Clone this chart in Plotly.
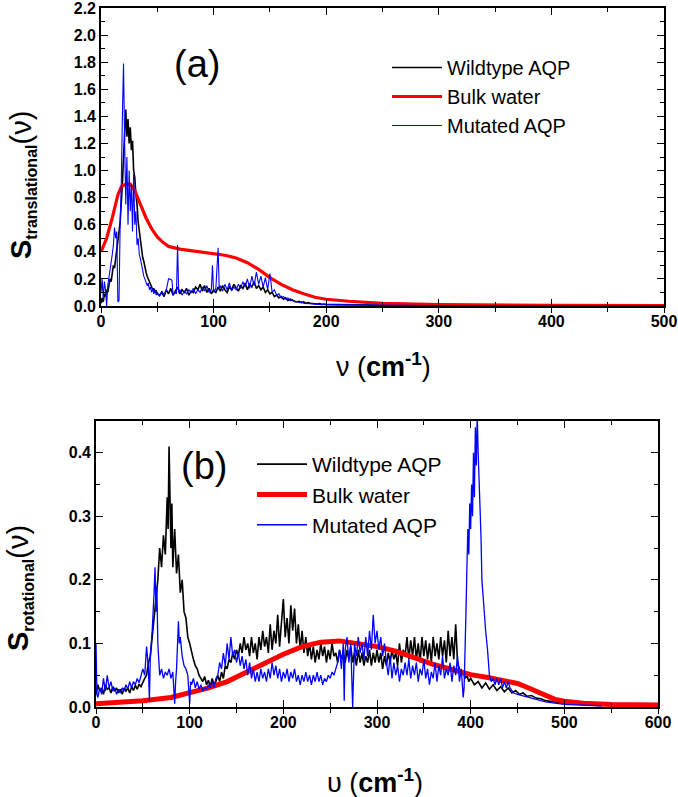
import plotly.graph_objects as go

# ---------------- Panel (a): translational spectra ----------------
a_wild_x = list(range(0, 51)) + list(range(52, 201, 2)) + [210, 220, 240, 260, 300, 400, 500]
a_wild_y = [0.02, 0.06, 0.03, 0.09, 0.07, 0.12, 0.1, 0.16, 0.2, 0.18, 0.26, 0.3, 0.28, 0.36, 0.42, 0.48, 0.55,
            0.62, 0.75, 0.9, 1.1, 1.3, 1.45, 1.25, 1.38, 1.2, 1.32, 1.15, 1.22, 1.0, 0.95, 0.82, 0.75, 0.62,
            0.55, 0.48, 0.42, 0.36, 0.33, 0.28, 0.25, 0.22, 0.2, 0.17, 0.16, 0.14, 0.12, 0.13, 0.1, 0.11, 0.09,
            0.08, 0.1, 0.07, 0.12, 0.09, 0.13, 0.08, 0.11, 0.14, 0.09, 0.12, 0.1, 0.13, 0.08, 0.11, 0.1, 0.14,
            0.12, 0.16, 0.11, 0.15, 0.1, 0.13, 0.09, 0.12, 0.1, 0.14, 0.11, 0.15, 0.12, 0.1, 0.14, 0.12, 0.16,
            0.13, 0.11, 0.15, 0.13, 0.17, 0.12, 0.16, 0.14, 0.18, 0.13, 0.15, 0.12, 0.14, 0.1, 0.12, 0.09, 0.1,
            0.07, 0.08, 0.06, 0.07, 0.05, 0.06, 0.04, 0.05, 0.04, 0.035, 0.03, 0.035, 0.025, 0.03, 0.02, 0.025,
            0.02, 0.018, 0.02, 0.015, 0.018, 0.012, 0.015, 0.012,
            0.01, 0.008, 0.006, 0.005, 0.003, 0.002, 0.001]

a_bulk_x = [0, 5, 10, 15, 18, 22, 26, 30, 35, 40, 45, 50, 55, 60, 70, 80, 90, 100, 110, 120, 130, 140,
            150, 160, 170, 180, 190, 200, 220, 250, 300, 400, 500]
a_bulk_y = [0.4, 0.5, 0.65, 0.82, 0.88, 0.9, 0.9, 0.85, 0.75, 0.65, 0.57, 0.51, 0.47, 0.44, 0.42, 0.41,
            0.4, 0.39, 0.375, 0.355, 0.32, 0.27, 0.21, 0.16, 0.12, 0.09, 0.065, 0.05, 0.035, 0.02, 0.01,
            0.005, 0.003]

a_mut_x = list(range(0, 51)) + [52, 54, 56, 58, 60, 61, 63, 64, 66, 67, 68, 69, 70, 72, 74, 76, 78, 80, 82,
            84, 86, 88, 90, 92, 94, 96, 98, 99, 100, 102, 104, 105, 106, 108, 110, 112, 114, 116, 118, 120,
            122, 124, 126, 128, 130, 132, 134, 136, 138, 140, 142, 144, 146, 148, 150, 152, 154, 156, 158,
            160, 162, 164, 166, 168, 170, 172, 174, 176, 178, 180, 184, 188, 192, 196, 200, 220, 250, 300,
            400, 500]
a_mut_y = [0.1, 0.2, 0.05, 0.18, 0.12, 0.0, 0.15, 0.2, 0.25, 0.3, 0.38, 0.45, 0.58, 0.5, 0.55, 0.03, 0.04,
           0.6, 0.9, 1.4, 1.79, 1.2, 0.75, 1.1, 0.6, 1.0, 0.7, 0.9, 0.55, 0.97, 0.6, 0.7, 0.45, 0.5, 0.38,
           0.35, 0.3, 0.27, 0.22, 0.2, 0.18, 0.15, 0.17, 0.12, 0.14, 0.1, 0.13, 0.09, 0.12, 0.08, 0.1,
           0.07, 0.11, 0.08, 0.12, 0.2, 0.2, 0.19, 0.08, 0.1, 0.09, 0.45, 0.1, 0.12, 0.08, 0.11, 0.09, 0.12,
           0.1, 0.13, 0.09, 0.12, 0.1, 0.14, 0.11, 0.15, 0.1, 0.12, 0.3, 0.1, 0.13, 0.43, 0.12, 0.15, 0.11,
           0.16, 0.12, 0.17, 0.11, 0.14, 0.12, 0.16, 0.13, 0.18, 0.14, 0.2, 0.13, 0.22, 0.15, 0.25, 0.16,
           0.22, 0.14, 0.21, 0.12, 0.24, 0.1, 0.12, 0.08, 0.09, 0.06, 0.07, 0.05, 0.06, 0.04, 0.045, 0.03,
           0.035, 0.025, 0.03, 0.02, 0.02, 0.015, 0.012, 0.01, 0.01, 0.008, 0.005, 0.003, 0.002, 0.001]

# ---------------- Panel (b): rotational spectra ----------------
b_wild_x = (list(range(0, 76, 2)) + [76, 77, 78, 79, 80, 81, 82] + list(range(84, 401, 2))
            + [404, 408, 412, 416, 420, 424, 428, 432, 436, 440, 444, 448, 452, 456, 460, 465, 470, 475,
               480, 490, 500, 520, 550, 560])
b_wild_y = [0.02, 0.035, 0.025, 0.03, 0.02, 0.035, 0.028, 0.03, 0.022, 0.032, 0.025, 0.03, 0.022, 0.028,
            0.02, 0.03, 0.025, 0.03, 0.022, 0.032, 0.026, 0.034, 0.028, 0.036, 0.032, 0.04, 0.045, 0.05,
            0.07, 0.08, 0.11, 0.13, 0.17, 0.2, 0.25, 0.22, 0.27, 0.24,
            0.33, 0.28, 0.41, 0.3, 0.25, 0.32, 0.22,
            0.28, 0.21, 0.24, 0.18, 0.2, 0.15, 0.14, 0.11, 0.1, 0.085, 0.075, 0.065, 0.06, 0.05, 0.045,
            0.04, 0.048, 0.035, 0.042, 0.032, 0.045, 0.035, 0.04, 0.05, 0.04, 0.055, 0.045, 0.065, 0.06,
            0.075, 0.07, 0.085, 0.075, 0.09, 0.08, 0.1, 0.085, 0.11, 0.09, 0.1, 0.08, 0.11, 0.085, 0.1,
            0.075, 0.11, 0.09, 0.12, 0.095, 0.11, 0.085, 0.13, 0.09, 0.12, 0.1, 0.145, 0.095, 0.13, 0.17,
            0.11, 0.14, 0.1, 0.16, 0.12, 0.155, 0.1, 0.13, 0.09, 0.12, 0.085, 0.11, 0.08, 0.1, 0.075, 0.095,
            0.07, 0.09, 0.075, 0.1, 0.08, 0.095, 0.07, 0.09, 0.075, 0.1, 0.08, 0.085, 0.07, 0.09, 0.075,
            0.085, 0.07, 0.09, 0.075, 0.095, 0.07, 0.085, 0.065, 0.09, 0.07, 0.085, 0.065, 0.08, 0.07, 0.09,
            0.065, 0.085, 0.07, 0.09, 0.07, 0.085, 0.06, 0.08, 0.065, 0.085, 0.07, 0.09, 0.075, 0.085, 0.065,
            0.1, 0.07, 0.09, 0.08, 0.11, 0.075, 0.105, 0.08, 0.11, 0.075, 0.1, 0.07, 0.11, 0.08, 0.105,
            0.075, 0.1, 0.07, 0.11, 0.08, 0.1, 0.075, 0.11, 0.08, 0.105, 0.07, 0.12, 0.08, 0.11, 0.075, 0.13,
            0.07, 0.06, 0.05, 0.055, 0.045, 0.05, 0.04, 0.045,
            0.035, 0.04, 0.03, 0.038, 0.028, 0.035, 0.026, 0.032, 0.024, 0.03, 0.022, 0.026, 0.02, 0.022,
            0.017, 0.018, 0.014, 0.013, 0.01, 0.008, 0.006, 0.004, 0.002, 0.002]

b_bulk_x = [0, 25, 50, 80, 100, 120, 140, 160, 180, 200, 220, 240, 260, 280, 300, 320, 340, 360, 380,
            400, 420, 440, 450, 460, 470, 480, 490, 500, 520, 550, 600]
b_bulk_y = [0.005, 0.007, 0.01, 0.015, 0.022, 0.03, 0.04, 0.055, 0.07, 0.083, 0.095, 0.102, 0.104, 0.1,
            0.095, 0.088, 0.077, 0.067, 0.059, 0.051, 0.046, 0.041, 0.037, 0.031, 0.024, 0.017, 0.012,
            0.009, 0.006, 0.004, 0.003]

b_mut_x = ([0, 1] + list(range(2, 57, 2)) + [57, 58, 60, 62, 63, 64, 65, 66, 67, 68] + list(range(70, 84, 2))
           + [84, 85, 86, 88, 89, 90, 92, 94, 96, 98, 100, 101] + list(range(102, 265, 2))
           + [265, 266, 268, 270, 272, 274, 275] + list(range(276, 393, 2))
           + list(range(393, 412)) + [412, 414, 416, 418, 420, 422, 424, 426, 428, 430, 432, 434, 436, 438,
                                      440, 442, 444, 446, 450, 455, 460, 465, 470, 480, 490, 500, 520, 540, 555])
b_mut_y = ([0.1, 0.02]
           + [0.015, 0.03, 0.02, 0.045, 0.025, 0.05, 0.03, 0.04, 0.025, 0.03, 0.02, 0.028, 0.022, 0.03, 0.025,
              0.035, 0.028, 0.04, 0.03, 0.04, 0.035, 0.045, 0.038, 0.05, 0.06, 0.05, 0.095, 0.06]
           + [0.01, 0.08, 0.12, 0.18, 0.22, 0.15, 0.19, 0.1, 0.08, 0.05]
           + [0.06, 0.045, 0.055, 0.05, 0.06, 0.045, 0.055]
           + [0.005, 0.04, 0.06, 0.135, 0.1, 0.11, 0.08, 0.065, 0.06, 0.05, 0.005, 0.04]
           + [0.035, 0.045, 0.03, 0.04, 0.028, 0.035, 0.025, 0.03, 0.028, 0.035, 0.03, 0.04, 0.03, 0.045, 0.05,
              0.07, 0.06, 0.085, 0.065, 0.1, 0.075, 0.11, 0.08, 0.09, 0.07, 0.085, 0.065, 0.08, 0.06, 0.075,
              0.05, 0.07, 0.045, 0.06, 0.04, 0.055, 0.04, 0.06, 0.045, 0.055, 0.04, 0.06, 0.045, 0.07, 0.05,
              0.065, 0.045, 0.06, 0.04, 0.055, 0.045, 0.06, 0.04, 0.055, 0.045, 0.06, 0.04, 0.05, 0.035, 0.05,
              0.04, 0.055, 0.04, 0.05, 0.035, 0.05, 0.04, 0.055, 0.04, 0.05, 0.035, 0.045, 0.04, 0.05, 0.045,
              0.055, 0.05, 0.06, 0.07, 0.09, 0.06, 0.1]
           + [0.01, 0.09, 0.11, 0.07, 0.1, 0.0, 0.08]
           + [0.1, 0.08, 0.11, 0.085, 0.1, 0.075, 0.11, 0.08, 0.12, 0.09, 0.145, 0.1, 0.12, 0.09, 0.11, 0.08,
              0.1, 0.07, 0.05, 0.08, 0.045, 0.07, 0.05, 0.065, 0.04, 0.06, 0.05, 0.07, 0.05, 0.075, 0.045,
              0.065, 0.05, 0.07, 0.04, 0.06, 0.05, 0.075, 0.045, 0.06, 0.035, 0.055, 0.045, 0.07, 0.04, 0.065,
              0.05, 0.08, 0.045, 0.06, 0.05, 0.07, 0.04, 0.065, 0.05, 0.08, 0.04, 0.06, 0.015]
           + [0.03, 0.08, 0.15, 0.22, 0.28, 0.24, 0.32, 0.28, 0.35, 0.3, 0.4, 0.33, 0.44, 0.38, 0.46, 0.4,
              0.36, 0.3, 0.27]
           + [0.2, 0.15, 0.12, 0.09, 0.05, 0.04, 0.045, 0.035, 0.045, 0.035, 0.045, 0.03, 0.04, 0.03, 0.04,
              0.03, 0.025, 0.022, 0.02, 0.018, 0.016, 0.014, 0.011, 0.008, 0.006, 0.004, 0.003, 0.002])

SERIES_NAMES = ["Wildtype AQP", "Bulk water", "Mutated AQP"]
COLORS = ["#000000", "#ff0000", "#0000ff"]

a_xticks = [0, 100, 200, 300, 400, 500]
a_yticks = [0.0, 0.2, 0.4, 0.6, 0.8, 1.0, 1.2, 1.4, 1.6, 1.8, 2.0, 2.2]
b_xticks = [0, 100, 200, 300, 400, 500, 600]
b_yticks = [0.0, 0.1, 0.2, 0.3, 0.4]

FONT = "Liberation Sans, Arial, sans-serif"
W, H = 678, 797


def px(x):
    return x / W


def py(y):
    return 1 - y / H


fig = go.Figure()

# Panel (a)
for name, xs, ys, col, lw in [
    (SERIES_NAMES[0], a_wild_x, a_wild_y, COLORS[0], 1.6),
    (SERIES_NAMES[1], a_bulk_x, a_bulk_y, COLORS[1], 3.2),
    (SERIES_NAMES[2], a_mut_x, a_mut_y, COLORS[2], 1.1),
]:
    fig.add_trace(go.Scatter(x=xs, y=ys, mode="lines", name=name, line=dict(color=col, width=lw),
                             xaxis="x", yaxis="y", legend="legend"))

# Panel (b)
for name, xs, ys, col, lw in [
    (SERIES_NAMES[0], b_wild_x, b_wild_y, COLORS[0], 1.6),
    (SERIES_NAMES[1], b_bulk_x, b_bulk_y, COLORS[1], 5),
    (SERIES_NAMES[2], b_mut_x, b_mut_y, COLORS[2], 1.3),
]:
    fig.add_trace(go.Scatter(x=xs, y=ys, mode="lines", name=name, line=dict(color=col, width=lw),
                             xaxis="x2", yaxis="y2", legend="legend2"))

# invisible helper traces for the outward bottom tick overlays
fig.add_trace(go.Scatter(x=[0], y=[0], mode="markers", marker=dict(opacity=0), showlegend=False,
                         hoverinfo="skip", xaxis="x3", yaxis="y"))
fig.add_trace(go.Scatter(x=[0], y=[0], mode="markers", marker=dict(opacity=0), showlegend=False,
                         hoverinfo="skip", xaxis="x4", yaxis="y2"))

tickfont = dict(family=FONT, size=16, color="black", weight="bold")
ax_common = dict(showline=True, linewidth=1.6, linecolor="black", mirror="ticks", ticks="inside",
                 ticklen=7, tickwidth=1.4, tickcolor="black", showgrid=False, zeroline=False,
                 tickfont=tickfont, automargin=False, ticklabeloverflow="allow")
overlay_common = dict(ticks="outside", ticklen=6, tickwidth=1.4, tickcolor="black", showticklabels=False,
                      showline=False, showgrid=False, zeroline=False, automargin=False, side="bottom")

a_dom_x = [px(101), px(664)]
a_dom_y = [py(306), py(8)]
b_dom_x = [px(96), px(658)]
b_dom_y = [py(707), py(421)]

fig.update_layout(
    template="none",
    width=W, height=H,
    margin=dict(l=0, r=0, t=0, b=0, pad=0),
    paper_bgcolor="white", plot_bgcolor="white",
    xaxis=dict(ax_common, domain=a_dom_x, range=[0, 500], tickvals=a_xticks, anchor="y",
               minor=dict(dtick=50, ticks="inside", ticklen=4, tickwidth=1.2, tickcolor="black")),
    yaxis=dict(ax_common, domain=a_dom_y, range=[0, 2.2001], tickvals=a_yticks, tickformat=".1f", anchor="x",
               minor=dict(dtick=0.1, ticks="inside", ticklen=4, tickwidth=1.2, tickcolor="black")),
    xaxis3=dict(overlay_common, overlaying="x", anchor="y", range=[0, 500], tickvals=a_xticks,
                minor=dict(dtick=50, ticks="outside", ticklen=5, tickwidth=1.2, tickcolor="black")),
    xaxis2=dict(ax_common, domain=b_dom_x, range=[0, 600], tickvals=b_xticks, anchor="y2",
                minor=dict(dtick=50, ticks="inside", ticklen=4, tickwidth=1.2, tickcolor="black")),
    yaxis2=dict(ax_common, domain=b_dom_y, range=[0, 0.45], tickvals=b_yticks, tickformat=".1f",
                anchor="x2",
                minor=dict(dtick=0.05, ticks="inside", ticklen=4, tickwidth=1.2, tickcolor="black")),
    xaxis4=dict(overlay_common, overlaying="x2", anchor="y2", range=[0, 600], tickvals=b_xticks,
                minor=dict(dtick=50, ticks="outside", ticklen=5, tickwidth=1.2, tickcolor="black")),
    legend=dict(x=px(387), y=py(48), xanchor="left", yanchor="top", bgcolor="rgba(0,0,0,0)",
                font=dict(family=FONT, size=20, color="black"), itemwidth=50, tracegroupgap=0),
    legend2=dict(x=px(252), y=py(444), xanchor="left", yanchor="top", bgcolor="rgba(0,0,0,0)",
                 font=dict(family=FONT, size=21, color="black"), itemwidth=50, tracegroupgap=0),
)

ann = []
ann.append(dict(text="(a)", x=px(197), y=py(64), xref="paper", yref="paper", showarrow=False,
                font=dict(family=FONT, size=38, color="black"), xanchor="center", yanchor="middle"))
ann.append(dict(text="(b)", x=px(204), y=py(466), xref="paper", yref="paper", showarrow=False,
                font=dict(family=FONT, size=38, color="black"), xanchor="center", yanchor="middle"))
ann.append(dict(text="<b>S</b><sub><span style='font-size:16px'><b>translational</b></span></sub>(ν)",
                x=px(22), y=py(185), xref="paper", yref="paper", showarrow=False, textangle=-90,
                font=dict(family=FONT, size=29, color="black"), xanchor="center", yanchor="middle"))
ann.append(dict(text="<b>S</b><sub><span style='font-size:16px'><b>rotational</b></span></sub>(ν)",
                x=px(19), y=py(588), xref="paper", yref="paper", showarrow=False, textangle=-90,
                font=dict(family=FONT, size=29, color="black"), xanchor="center", yanchor="middle"))
ann.append(dict(text="ν (<b>cm</b><sup><b>-1</b></sup>)", x=px(383), y=py(365), xref="paper",
                yref="paper", showarrow=False, font=dict(family=FONT, size=27, color="black"),
                xanchor="center", yanchor="middle"))
ann.append(dict(text="υ (<b>cm</b><sup><b>-1</b></sup>)", x=px(375), y=py(781), xref="paper",
                yref="paper", showarrow=False, font=dict(family=FONT, size=27, color="black"),
                xanchor="center", yanchor="middle"))
fig.update_layout(annotations=ann)

fig.write_html("out.html", config={"displayModeBar": False},
               post_script="document.body.style.margin='0';document.body.style.overflow='hidden';")
